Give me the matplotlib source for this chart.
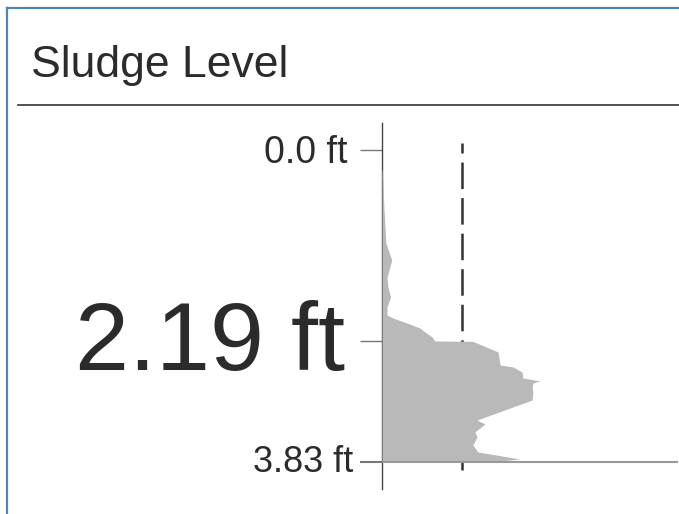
import numpy as np
import matplotlib
matplotlib.use("Agg")
from matplotlib import pyplot as plt
from matplotlib.lines import Line2D

plt.rcParams['font.family'] = ['Liberation Sans', 'DejaVu Sans']
plt.rcParams['lines.scale_dashes'] = False

# sonar profile: depth below the top (ft) and echo strength (0..1)
depth = [0.224, 0.684, 1.063, 1.201, 1.259, 1.374, 1.454, 1.569, 1.684, 1.799,
         1.891, 1.926, 1.983, 2.040, 2.086, 2.144, 2.190, 2.195, 2.339, 2.515,
         2.542, 2.610, 2.691, 2.732, 2.759, 2.827, 2.881, 2.990, 3.261, 3.315,
         3.423, 3.491, 3.600, 3.694, 3.789, 3.816, 3.830]
strength = [0.001, 0.007, 0.013, 0.027, 0.033, 0.024, 0.017, 0.020, 0.029, 0.017,
            0.017, 0.037, 0.084, 0.128, 0.145, 0.169, 0.179, 0.307, 0.392, 0.399,
            0.443, 0.473, 0.476, 0.534, 0.510, 0.507, 0.510, 0.507, 0.321, 0.348,
            0.314, 0.321, 0.307, 0.324, 0.466, 0.399, 0.0]

sludge_level = 2.19
total_depth = 3.83
threshold = 0.27
tick_depths = [0.0, sludge_level, total_depth]
tick_labels = ["0.0 ft", "2.19 ft", "3.83 ft"]

# the picture stretches the clear water part more than the sludge part
UP = 87.0   # px per ft above sludge level
LO = 73.8   # px per ft below


def fwd(d):
    d = np.asarray(d, dtype=float)
    return np.where(d <= sludge_level, d * UP,
                    sludge_level * UP + (d - sludge_level) * LO)


def inv(p):
    p = np.asarray(p, dtype=float)
    return np.where(p <= sludge_level * UP, p / UP,
                    sludge_level + (p - sludge_level * UP) / LO)


W, H = 679, 514
fig = plt.figure(figsize=(W / 100, H / 100), dpi=100)

ax = fig.add_axes([382 / W, 25 / H, 296 / W, 366 / H])
ax.set_yscale('function', functions=(fwd, inv))
ax.set_xlim(0, 1)
ax.set_ylim(total_depth + 27 / LO, -27.5 / UP)

ax.fill_betweenx(depth, 0, strength, color='#b9b9b9', lw=0, zorder=3)
ax.plot([threshold, threshold], [-7.5 / UP, total_depth + 8 / LO], color='#333333',
        lw=1.8, linestyle=(11.9, (19.1, 6.5)), zorder=2, clip_on=False)
ax.axhline(total_depth, color='#999999', lw=1.5, zorder=4)

for s in ['top', 'right', 'bottom']:
    ax.spines[s].set_visible(False)
ax.spines['left'].set_color('#444444')
ax.spines['left'].set_linewidth(1)
ax.set_xticks([])
ax.set_yticks(tick_depths)
ax.set_yticklabels([])
ax.yaxis.set_minor_locator(matplotlib.ticker.NullLocator())
ax.tick_params(axis='y', length=15.8, width=1, color='#777777', direction='out')
ax.yaxis.get_major_ticks()[2].tick1line.set_color('#999999')
ax.yaxis.get_major_ticks()[2].tick1line.set_markeredgewidth(1.5)

sizes = [27, 70, 26]
offs = [(-34, -12.5), (-37, -29), (-29, -10)]
for d, lab, sz, (dx, dy) in zip(tick_depths, tick_labels, sizes, offs):
    ax.annotate(lab, xy=(0, d), xycoords=('axes fraction', 'data'),
                xytext=(dx, dy), textcoords='offset pixels',
                ha='right', va='baseline', fontsize=sz, color='#2b2b2b')

# card frame and title
def px_line(x0, y0, x1, y1, **kw):
    fig.add_artist(Line2D([x0 / W, x1 / W], [1 - y0 / H, 1 - y1 / H],
                          transform=fig.transFigure, **kw))

px_line(7, 8, W, 8, color='#4f87b4', lw=1.6)
px_line(7, 8, 7, H, color='#4f87b4', lw=1.6)
px_line(18, 105, W, 105, color='#333333', lw=1.2)
fig.text(31 / W, 1 - 77 / H, 'Sludge Level', fontsize=32, color='#2b2b2b',
         ha='left', va='baseline')

fig.savefig('out.png', dpi=100)
